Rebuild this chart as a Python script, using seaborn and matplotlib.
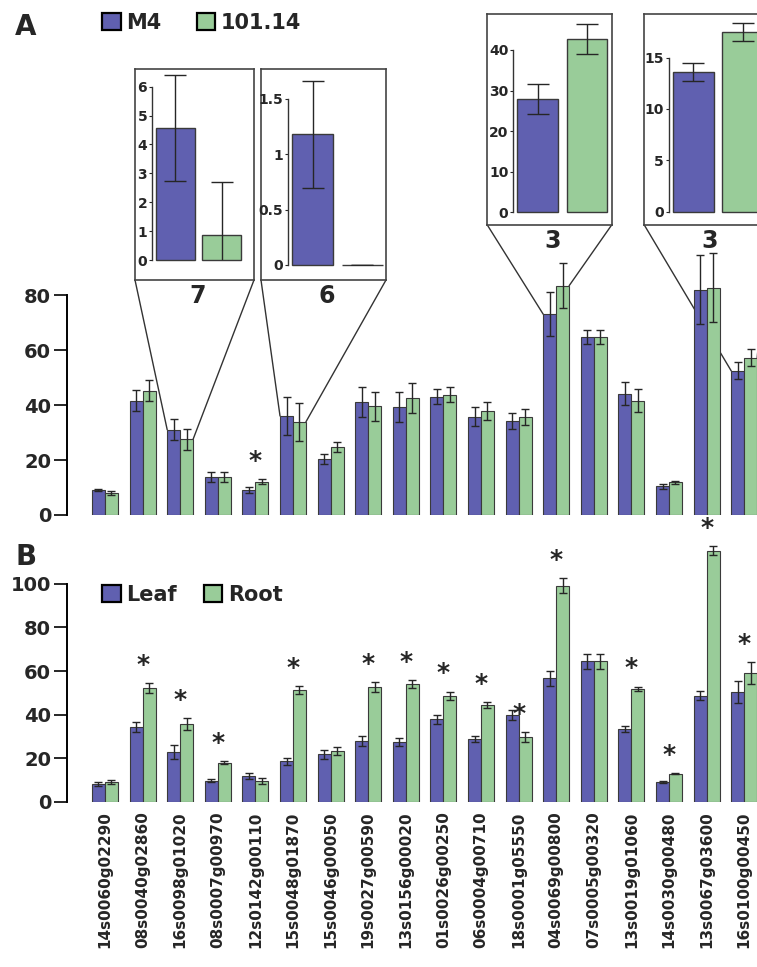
import pandas as pd
import seaborn as sns
import matplotlib.pyplot as plt
from matplotlib.patches import Patch, ConnectionPatch

# gene labels (shared by both panels)
genes = ['14s0060g02290', '08s0040g02860', '16s0098g01020', '08s0007g00970',
         '12s0142g00110', '15s0048g01870', '15s0046g00050', '19s0027g00590',
         '13s0156g00020', '01s0026g00250', '06s0004g00710', '18s0001g05550',
         '04s0069g00800', '07s0005g00320', '13s0019g01060', '14s0030g00480',
         '13s0067g03600', '16s0100g00450']

# panel A: M4 vs 101.14
a_names = ['M4', '101.14']
a_m4 = [9.1, 41.6, 31.0, 13.9, 9.1, 36.0, 20.4, 41.1, 39.2, 43.0, 35.8, 34.3, 73.0, 64.6, 44.1, 10.4, 81.9, 52.4]
a_m4_err = [0.5, 3.9, 3.9, 1.9, 1.1, 7.0, 1.9, 5.3, 5.5, 2.7, 3.4, 2.9, 8.0, 2.5, 4.1, 0.8, 12.5, 3.1]
a_101 = [7.9, 45.2, 27.6, 13.7, 12.1, 33.9, 24.7, 39.5, 42.5, 43.8, 37.7, 35.6, 83.4, 64.6, 41.6, 11.9, 82.7, 57.2]
a_101_err = [0.7, 3.9, 3.8, 1.8, 1.0, 7.0, 1.9, 5.3, 5.5, 2.7, 3.3, 2.8, 8.2, 2.5, 4.1, 0.6, 12.5, 3.1]
a_sig = [4]
a_yticks = [0, 20, 40, 60, 80]

# panel B: Leaf vs Root
b_names = ['Leaf', 'Root']
b_leaf = [8.1, 34.3, 22.8, 9.7, 11.7, 18.5, 21.7, 27.9, 27.3, 37.9, 28.8, 39.8, 56.7, 64.5, 33.5, 9.2, 48.7, 50.2]
b_leaf_err = [1.0, 2.2, 3.1, 0.6, 1.3, 1.6, 2.0, 2.1, 1.8, 2.1, 1.6, 2.1, 3.4, 3.5, 1.3, 0.4, 2.1, 5.0]
b_root = [8.9, 52.1, 35.7, 17.9, 9.5, 51.3, 23.3, 52.7, 54.1, 48.7, 44.4, 29.7, 99.2, 64.5, 51.8, 12.9, 115.2, 59.0]
b_root_err = [1.0, 2.2, 2.9, 0.8, 1.4, 1.8, 2.0, 2.1, 1.8, 1.9, 1.4, 2.1, 3.4, 3.5, 1.1, 0.3, 2.1, 5.0]
b_sig = [1, 2, 3, 5, 7, 8, 9, 10, 11, 12, 14, 15, 16, 17]
b_yticks = [0, 20, 40, 60, 80, 100]

# zoomed insets of panel A (group index each one points at)
inset_groups = [2, 5, 12, 17]
inset_labels = ['7', '6', '3', '3']
inset_m4 = [4.58, 1.18, 27.9, 13.6]
inset_m4_err = [1.83, 0.48, 3.6, 0.87]
inset_101 = [0.86, 0.0, 42.7, 17.5]
inset_101_err = [1.85, 0.0, 3.6, 0.85]
inset_ticks = [[0, 1, 2, 3, 4, 5, 6], [0, 0.5, 1, 1.5], [0, 10, 20, 30, 40], [0, 5, 10, 15]]

BLUE = '#6060b0'
GREEN = '#99cc99'
EDGE = '#3a3a3a'
ERR = '#262626'

W, H = 757, 967


def px_rect(left, right, top, bottom):
    return [left / W, 1 - bottom / H, (right - left) / W, (bottom - top) / H]


sns.set_style('white')
plt.rcParams['font.family'] = ['DejaVu Sans']
plt.rcParams['font.weight'] = 'bold'


def add_errors(ax, conts, errs_list, capsize):
    for cont, errs in zip(conts, errs_list):
        xs = [b.get_x() + b.get_width() / 2 for b in cont]
        hs = [b.get_height() for b in cont]
        ax.errorbar(xs, hs, yerr=errs, fmt='none', ecolor=ERR, elinewidth=1.0,
                    capsize=capsize, capthick=1.0, zorder=4)


def draw_pairs(ax, cats, names, v1, e1, v2, e2):
    df = pd.DataFrame({'cat': list(cats) * 2,
                       'value': list(v1) + list(v2),
                       'group': [names[0]] * len(cats) + [names[1]] * len(cats)})
    sns.barplot(data=df, x='cat', y='value', hue='group', order=list(cats),
                hue_order=names, palette=[BLUE, GREEN], width=0.69, saturation=1,
                edgecolor=EDGE, linewidth=0.8, errorbar=None, legend=False, ax=ax)
    conts = list(ax.containers)[:2]
    add_errors(ax, conts, [e1, e2], 2.7)
    return conts


def style_main(ax, yticks, ylim):
    ax.set_xlim(-1.01, 17.34)
    ax.set_ylim(*ylim)
    for s in ['top', 'right', 'bottom']:
        ax.spines[s].set_visible(False)
    ax.spines['left'].set_bounds(yticks[0], yticks[-1])
    ax.spines['left'].set_linewidth(1.4)
    ax.spines['left'].set_color('black')
    ax.set_yticks(yticks)
    ax.tick_params(axis='y', length=9.5, width=1.4, pad=2, labelsize=14, direction='out', left=True)
    ax.tick_params(axis='x', length=0)
    for t in ax.get_yticklabels():
        t.set_fontweight('bold')
    ax.set_xlabel('')
    ax.set_ylabel('')


def add_stars(ax, conts, errs, sig, offset):
    for i in sig:
        bar = conts[1][i]
        top = bar.get_height() + errs[i]
        ax.annotate('*', xy=(i, top), xytext=(0, offset), textcoords='offset points',
                    ha='center', va='baseline', fontsize=18, fontweight='bold',
                    annotation_clip=False)


fig = plt.figure(figsize=(W / 100, H / 100), dpi=100)

# ---- panel A
axA = fig.add_axes(px_rect(67, 757, 240, 515))
contA = draw_pairs(axA, genes, a_names, a_m4, a_m4_err, a_101, a_101_err)
style_main(axA, a_yticks, (0, 100))
axA.set_xticks([])
add_stars(axA, contA, a_101_err, a_sig, 8)

# ---- panel B
axB = fig.add_axes(px_rect(67, 757, 529.5, 801.7))
contB = draw_pairs(axB, genes, b_names, b_leaf, b_leaf_err, b_root, b_root_err)
style_main(axB, b_yticks, (0, 125))
axB.set_xticks(range(len(genes)))
axB.set_xticklabels(genes, rotation=90, fontsize=11, fontweight='bold', va='top')
axB.tick_params(axis='x', pad=7)
add_stars(axB, contB, b_root_err, b_sig, 8)

# ---- insets: box (left, right, top, bottom), spine x, y0, px per unit, bar spacing
inset_layout = [
    ((135, 254, 69, 280), 152.0, 260.0, 28.9, 46.5),
    ((261, 386, 69, 280), 288.3, 265.0, 110.7, 49.3),
    ((487, 612, 14, 224.5), 513.3, 212.3, 4.06, 49.1),
    ((644, 769, 14, 224.5), 668.7, 211.7, 10.27, 49.5),
]

for k, g in enumerate(inset_groups):
    (l, r, top, bot), sx, y0, ppu, sp = inset_layout[k]
    bax = fig.add_axes(px_rect(l, r, top, bot))
    bax.set_xticks([])
    bax.set_yticks([])
    bax.set_zorder(5)
    for s in bax.spines.values():
        s.set_linewidth(1.2)
        s.set_color('#444444')

    iax = fig.add_axes(px_rect(sx, r - 1, top + 3, y0))
    iax.set_zorder(6)
    iax.patch.set_alpha(0)
    sns.barplot(x=a_names, y=[inset_m4[k], inset_101[k]], hue=a_names, hue_order=a_names,
                palette=[BLUE, GREEN], width=0.83, saturation=1, edgecolor=EDGE,
                linewidth=1.0, errorbar=None, legend=False, ax=iax)
    for p in iax.patches:
        p.set_clip_on(False)  # keep zero-height bar outline visible
    add_errors(iax, list(iax.containers)[:2], [[inset_m4_err[k]], [inset_101_err[k]]], 7.6)
    iax.set_xlim(-0.5, -0.5 + (r - 1 - sx) / sp)
    iax.set_ylim(0, (y0 - top - 3) / ppu)
    for s in ['top', 'right', 'bottom']:
        iax.spines[s].set_visible(False)
    iax.spines['left'].set_bounds(inset_ticks[k][0], inset_ticks[k][-1])
    iax.spines['left'].set_linewidth(1.0)
    iax.spines['left'].set_color('#333333')
    iax.set_yticks(inset_ticks[k], labels=[f'{t:g}' for t in inset_ticks[k]])
    iax.tick_params(axis='y', length=2, width=0.8, pad=1.5, labelsize=10, left=True)
    for t in iax.get_yticklabels():
        t.set_fontweight('bold')
    iax.set_xticks([])
    iax.set_xlabel('')
    iax.set_ylabel('')

    fig.text(((l + r) / 2 + 3) / W, 1 - (bot + 16) / H, inset_labels[k],
             ha='center', va='center', fontsize=17, fontweight='bold')

    # zoom lines from the box corners to the bar pair; drawn behind the bars
    blue_bar = contA[0][g]
    green_bar = contA[1][g]
    for xa, bar, xb in [(0, blue_bar, blue_bar.get_x()),
                        (1, green_bar, green_bar.get_x() + green_bar.get_width())]:
        con = ConnectionPatch(xyA=(xa, 0), coordsA=bax.transAxes,
                              xyB=(xb, bar.get_height()), coordsB=axA.transData,
                              color='#333333', lw=1.0, zorder=0.5,
                              clip_on=False, annotation_clip=False)
        axA.add_artist(con)

# ---- legends and panel letters
leg_kw = dict(ncol=2, frameon=False, loc='center left', borderpad=0, borderaxespad=0,
              handlelength=0.9, handleheight=0.9, handletextpad=0.25,
              prop={'size': 15, 'weight': 'bold'})
handles = [Patch(facecolor=BLUE, edgecolor='black', linewidth=1.6),
           Patch(facecolor=GREEN, edgecolor='black', linewidth=1.6)]
fig.legend(handles, a_names, bbox_to_anchor=(102 / W, 1 - 23 / H), columnspacing=1.7, **leg_kw)
fig.legend(handles, b_names, bbox_to_anchor=(102 / W, 1 - 595 / H), columnspacing=1.3, **leg_kw)

fig.text(15 / W, 1 - 35 / H, 'A', fontsize=20, fontweight='bold', va='baseline')
fig.text(16 / W, 1 - 565 / H, 'B', fontsize=20, fontweight='bold', va='baseline')

fig.savefig('out.png', dpi=100)
